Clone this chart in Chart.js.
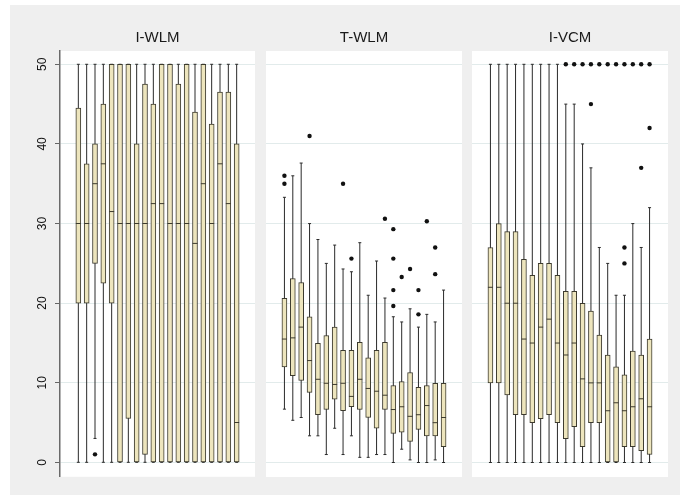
<!DOCTYPE html>
<html>
<head>
<meta charset="utf-8">
<title>Box plots por panel</title>
<script src="https://cdn.jsdelivr.net/npm/chart.js@4/dist/chart.umd.min.js"></script>
<style>
    body { margin: 0; background: #fff; }
    #frame { position: absolute; left: 10px; top: 5px; width: 670px; height: 490px; background: #efefef; }
    canvas { position: absolute; top: 5px; }
    #panel1 { left: 10px; }
    #panel2 { left: 261px; }
    #panel3 { left: 467px; }
</style>
</head>
<body>
<div id="frame"></div>
<canvas id="panel1" width="250" height="485"></canvas>
<canvas id="panel2" width="206" height="485"></canvas>
<canvas id="panel3" width="206" height="485"></canvas>
<script>
// Datos de los paneles
var boxIds = [1, 2, 3, 4, 5, 6, 7, 8, 9, 10, 11, 12, 13, 14, 15, 16, 17, 18, 19, 20];
var panelNames = ['I-WLM', 'T-WLM', 'I-VCM'];
var yTicks = [0, 10, 20, 30, 40, 50];

// I-WLM
var iwlmLow  = [0, 0, 3, 0, 0, 0, 0, 0, 0, 0, 0, 0, 0, 0, 0, 0, 0, 0, 0, 0];
var iwlmQ1   = [20, 20, 25, 22.5, 20, 0, 5.5, 0, 1, 0, 0, 0, 0, 0, 0, 0, 0, 0, 0, 0];
var iwlmMed  = [30, 30, 35, 37.5, 31.5, 30, 30, 30, 30, 32.5, 32.5, 30, 30, 30, 27.5, 35, 30, 37.5, 32.5, 5];
var iwlmQ3   = [44.5, 37.5, 40, 45, 50, 50, 50, 40, 47.5, 45, 50, 50, 47.5, 50, 44, 50, 42.5, 46.5, 46.5, 40];
var iwlmHigh = [50, 50, 50, 50, 50, 50, 50, 50, 50, 50, 50, 50, 50, 50, 50, 50, 50, 50, 50, 50];
var iwlmOut  = [[3, 1]];

// T-WLM
var twlmLow  = [6.7, 5.3, 5.65, 3.35, 3.35, 1, 4.3, 1, 3.35, 0.65, 0.65, 1, 1, 0, 1.67, 0.33, 0, 0, 0.33, 0];
var twlmQ1   = [12, 10.9, 10.3, 8.8, 6, 6.65, 7.95, 6.5, 7, 6.65, 5.65, 4.3, 6.65, 3.65, 3.8, 2.65, 4.15, 3.35, 3.35, 2];
var twlmMed  = [15.5, 15.65, 17, 12.8, 10.45, 9.95, 9.8, 9.95, 8.3, 10.45, 9.3, 8.95, 8.45, 6.65, 7, 5.8, 6, 7.15, 5, 5.65];
var twlmQ3   = [20.6, 23.1, 22.6, 18.3, 14.95, 15.95, 17, 14.1, 14.1, 15.1, 13.15, 14.1, 15.1, 9.67, 10.15, 11.3, 9.45, 9.67, 9.95, 9.95];
var twlmHigh = [33.3, 36, 37.6, 30, 28, 25, 27.3, 24.3, 23.95, 27.6, 21, 25.3, 20.65, 18.3, 17.65, 19.3, 17, 18.6, 17.65, 21.65];
var twlmOut  = [[1, 35], [1, 36], [4, 41], [8, 35], [9, 25.6], [13, 30.6], [14, 29.3], [14, 25.6], [14, 21.65], [14, 19.65],
                [15, 23.3], [16, 24.3], [17, 21.65], [17, 18.6], [18, 30.3], [19, 27], [19, 23.65]];

// I-VCM
var ivcmLow  = [0, 0, 0, 0, 0, 0, 0, 0, 0, 0, 0, 0, 0, 0, 0, 0, 0, 0, 0, 0];
var ivcmQ1   = [10, 10, 8.5, 6, 6, 5, 5.5, 6, 5, 3, 4.5, 2, 5, 5, 0, 0, 2, 2, 1.5, 1];
var ivcmMed  = [22, 22, 20, 20, 15.5, 15, 17, 18, 15, 13.5, 15, 10.5, 10, 10, 6.5, 7.5, 6.5, 7, 8, 7];
var ivcmQ3   = [27, 30, 29, 29, 25.5, 23.5, 25, 25, 23.5, 21.5, 21.5, 20, 19, 16, 13.5, 12, 11, 14, 13.5, 15.5];
var ivcmHigh = [50, 50, 50, 50, 50, 50, 50, 50, 50, 45, 45, 40, 37, 27, 25, 21, 21, 30, 27, 32];
var ivcmOut  = [[10, 50], [11, 50], [12, 50], [13, 45], [13, 50], [14, 50], [15, 50], [16, 50], [17, 25], [17, 27],
                [17, 50], [18, 50], [19, 37], [19, 50], [20, 42], [20, 50]];

var FONT = '"Liberation Sans", Arial, Helvetica, sans-serif';
var BOX_FILL = '#ede5bd';
var BOX_LINE = '#3c3a2e';
var WHISKER = '#2a2a2a';

/**
 * Fondo blanco solo en el area de trazado
 */
var plotBackground = {
    id: 'plotBackground',
    beforeDraw: function(chart) {
        var a = chart.chartArea;
        var ctx = chart.ctx;
        ctx.save();
        ctx.fillStyle = '#ffffff';
        ctx.fillRect(a.left, a.top, a.right - a.left, a.bottom - a.top);
        ctx.restore();
    }
};

/**
 * Crear un panel de box plots
 */
function makePanel(canvasId, title, low, q1, med, q3, high, out, showAxis) {
    var whiskers = [];
    var caps = [];
    var boxes = [];
    var medians = [];
    for (var i = 0; i < boxIds.length; i++) {
        whiskers.push({ x: boxIds[i], y: low[i] });
        whiskers.push({ x: boxIds[i], y: high[i] });
        whiskers.push({ x: boxIds[i], y: null });
        caps.push({ x: boxIds[i], y: low[i] });
        caps.push({ x: boxIds[i], y: high[i] });
        boxes.push({ x: boxIds[i], y: [q1[i], q3[i]] });
        medians.push({ x: boxIds[i], y: med[i] });
    }
    var outliers = out.map(function(p) { return { x: p[0], y: p[1] }; });

    new Chart(document.getElementById(canvasId), {
        type: 'bar',
        data: {
            datasets: [{
                type: 'line',
                data: whiskers,
                borderColor: WHISKER,
                borderWidth: 1,
                pointRadius: 0,
                spanGaps: false,
                order: 4
            }, {
                type: 'scatter',
                data: caps,
                pointStyle: 'line',
                pointRadius: 1.5,
                borderColor: WHISKER,
                borderWidth: 1,
                order: 3
            }, {
                type: 'bar',
                data: boxes,
                backgroundColor: BOX_FILL,
                borderColor: BOX_LINE,
                borderWidth: 1,
                borderSkipped: false,
                barThickness: 5,
                order: 2
            }, {
                type: 'scatter',
                data: medians,
                pointStyle: 'line',
                pointRadius: 2.5,
                borderColor: BOX_LINE,
                borderWidth: 1,
                order: 1
            }, {
                type: 'scatter',
                data: outliers,
                pointStyle: 'circle',
                pointRadius: 2.2,
                backgroundColor: '#111',
                borderWidth: 0,
                order: 0
            }]
        },
        options: {
            responsive: false,
            animation: false,
            layout: {
                padding: { left: showAxis ? 0 : 5, right: 5, top: 0, bottom: 13 }
            },
            plugins: {
                legend: { display: false },
                tooltip: { enabled: false },
                title: {
                    display: true,
                    text: title,
                    fullSize: false,
                    color: '#1a1a1a',
                    font: { family: FONT, size: 15, weight: 'normal' },
                    padding: { top: 24.3, bottom: 3.7 }
                }
            },
            scales: {
                x: {
                    type: 'linear',
                    min: -1.2,
                    max: 22.2,
                    offset: false,
                    grid: { offset: false },
                    display: false
                },
                y: {
                    min: -1.82,
                    max: 51.67,
                    afterBuildTicks: function(scale) {
                        scale.ticks = yTicks.map(function(v) { return { value: v }; });
                    },
                    afterFit: function(scale) {
                        scale.width = showAxis ? 50 : 0;
                    },
                    grid: {
                        color: '#e2ebeb',
                        lineWidth: 1,
                        drawTicks: showAxis,
                        tickLength: 5,
                        tickColor: '#666'
                    },
                    border: { display: showAxis, color: '#6a6a6a', width: 1.5 },
                    ticks: {
                        display: showAxis,
                        minRotation: 90,
                        maxRotation: 90,
                        crossAlign: 'center',
                        padding: 6,
                        color: '#111',
                        font: { family: FONT, size: 12 }
                    }
                }
            }
        },
        plugins: [plotBackground]
    });
}

makePanel('panel1', panelNames[0], iwlmLow, iwlmQ1, iwlmMed, iwlmQ3, iwlmHigh, iwlmOut, true);
makePanel('panel2', panelNames[1], twlmLow, twlmQ1, twlmMed, twlmQ3, twlmHigh, twlmOut, false);
makePanel('panel3', panelNames[2], ivcmLow, ivcmQ1, ivcmMed, ivcmQ3, ivcmHigh, ivcmOut, false);
</script>
</body>
</html>
